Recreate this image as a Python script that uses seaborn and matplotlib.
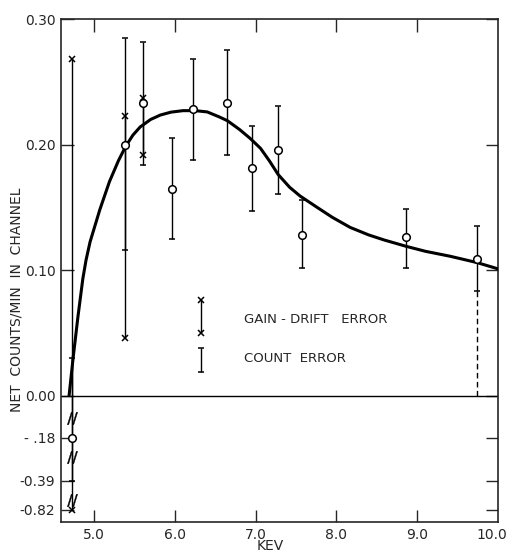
import numpy as np
import pandas as pd
import seaborn as sns
import matplotlib
matplotlib.use("Agg")
import matplotlib.pyplot as plt
from matplotlib.transforms import ScaledTranslation

# measured points (keV, net counts/min) with count-error bars
energy = [4.73, 5.38, 5.60, 5.96, 6.23, 6.65, 6.95, 7.28, 7.57, 8.86, 9.74]
counts = [-0.18, 0.200, 0.233, 0.165, 0.228, 0.233, 0.181, 0.196, 0.128, 0.126, 0.109]
count_lo = [-0.39, 0.116, 0.184, 0.125, 0.188, 0.192, 0.147, 0.161, 0.102, 0.102, 0.083]
count_hi = [0.030, 0.285, 0.282, 0.205, 0.268, 0.275, 0.215, 0.231, 0.156, 0.149, 0.135]

# gain-drift error limits
gain_e = [4.73, 5.38, 5.60]
gain_lo = [-0.82, 0.046, 0.192]
gain_hi = [0.268, 0.223, 0.237]

# fitted curve
curve_e = [4.69, 4.74, 4.80, 4.86, 4.90, 4.95, 5.07, 5.19, 5.30, 5.39, 5.48, 5.57,
           5.70, 5.82, 5.95, 6.10, 6.25, 6.40, 6.55, 6.65, 6.80, 6.93, 7.06, 7.17,
           7.28, 7.42, 7.55, 7.76, 7.95, 8.17, 8.40, 8.59, 8.86, 9.10, 9.41, 9.74, 10.0]
curve_y = [0.000, 0.030, 0.063, 0.093, 0.108, 0.1225, 0.148, 0.1705, 0.187, 0.1985, 0.2075, 0.214,
           0.220, 0.2235, 0.2258, 0.227, 0.227, 0.226, 0.222, 0.219, 0.212, 0.205, 0.197, 0.187,
           0.176, 0.166, 0.159, 0.150, 0.142, 0.134, 0.128, 0.124, 0.119, 0.115, 0.111, 0.106, 0.101]

# dashed extension to zero at the last point
dash_e = 9.74
dash_lo, dash_hi = 0.0, 0.083

# axis breaks on the 4.73 keV error line
break_y = [-0.094, -0.273, -0.672]

y_ticks = [-0.82, -0.39, -0.18, 0.0, 0.10, 0.20, 0.30]
y_labels = ["-0.82", "-0.39", "- .18", "0.00", "0.10", "0.20", "0.30"]
x_ticks = [5.0, 6.0, 7.0, 8.0, 9.0, 10.0]
x_labels = ["5.0", "6.0", "7.0", "8.0", "9.0", "10.0"]

# broken scale below zero: real value -> drawn position
real_knots = [-10.0, -0.82, -0.39, -0.18, 0.0]
draw_knots = [-1.1926, -0.0910, -0.0678, -0.0335, 0.0]


def fwd(y):
    y = np.asarray(y, dtype=float)
    return np.where(y >= 0, y, np.interp(y, real_knots, draw_knots))


def inv(d):
    d = np.asarray(d, dtype=float)
    return np.where(d >= 0, d, np.interp(d, draw_knots, real_knots))


sns.set_style("ticks")
plt.rcParams["font.family"] = ["DejaVu Sans"]
plt.rcParams["xtick.direction"] = "in"
plt.rcParams["ytick.direction"] = "in"

fig = plt.figure(figsize=(5.10, 5.54), dpi=100)
ax = fig.add_axes([0.1196, 0.0578, 0.8569, 0.9079])
ax.set_yscale("function", functions=(fwd, inv))

df_curve = pd.DataFrame({"e": curve_e, "y": curve_y})
sns.lineplot(data=df_curve, x="e", y="y", color="black", lw=2.2, ax=ax,
             sort=False, zorder=3)

# gain-drift lines and x marks
ax.vlines(gain_e, gain_lo, gain_hi, color="black", lw=1.0, zorder=2)
ax.plot(gain_e + gain_e, gain_lo + gain_hi, ls="none", marker="x",
        ms=4, mew=1.1, color="black", zorder=4)

# count errors
c = np.array(counts)
yerr = [c - np.array(count_lo), np.array(count_hi) - c]
ax.errorbar(energy, counts, yerr=yerr, fmt="none", ecolor="black",
            elinewidth=1.0, capsize=2.5, capthick=1.1, zorder=2)

df_pts = pd.DataFrame({"e": energy, "y": counts})
sns.scatterplot(data=df_pts, x="e", y="y", marker="o", s=30, facecolor="white",
                edgecolor="black", linewidth=1.1, ax=ax, zorder=5)

ax.vlines(dash_e, dash_lo, dash_hi, color="black", lw=1.0, ls=(0, (4, 2.5)))
ax.plot([4.73] * len(break_y), break_y, ls="none", marker=r"$//$", ms=9,
        color="black", mew=0.3, zorder=6)

ax.axhline(0, color="black", lw=1.0, zorder=1)

# hand-drawn legend
lx = 6.32
ax.vlines(lx, 0.050, 0.076, color="black", lw=1.0)
ax.plot([lx, lx], [0.050, 0.076], ls="none", marker="x", ms=4, mew=1.1, color="black")
ax.errorbar([lx], [0.0285], yerr=[[0.0095], [0.0095]], fmt="none", ecolor="black",
            elinewidth=1.0, capsize=2.5, capthick=1.1)
ax.text(6.85, 0.061, "GAIN - DRIFT   ERROR", fontsize=9.5, va="center", ha="left")
ax.text(6.85, 0.030, "COUNT  ERROR", fontsize=9.5, va="center", ha="left")

ax.set_xlim(4.59, 10.0)
ax.set_ylim(-0.9, 0.30)
ax.set_xticks(x_ticks)
ax.set_xticklabels(x_labels)
ax.set_yticks(y_ticks)
ax.set_yticklabels(y_labels)
ax.tick_params(axis="both", labelsize=10, length=9, width=1.0, pad=4,
               top=True, right=True)
ax.xaxis.get_major_ticks()[-1].tick1line.set_visible(False)
ax.xaxis.get_major_ticks()[-1].tick2line.set_visible(False)
last = ax.get_xticklabels()[-1]
last.set_transform(last.get_transform() + ScaledTranslation(-6 / 100, 0, fig.dpi_scale_trans))
for s in ax.spines.values():
    s.set_linewidth(1.2)
    s.set_visible(True)

ax.set_xlabel("KEV", fontsize=10)
ax.xaxis.set_label_coords(0.478, -0.0477)
ax.xaxis.label.set_va("center")
ax.set_ylabel("NET  COUNTS/MIN  IN  CHANNEL", fontsize=10)
ax.yaxis.set_label_coords(-0.1007, 0.441)
ax.yaxis.label.set_va("center")

fig.savefig("out.png", dpi=100)
